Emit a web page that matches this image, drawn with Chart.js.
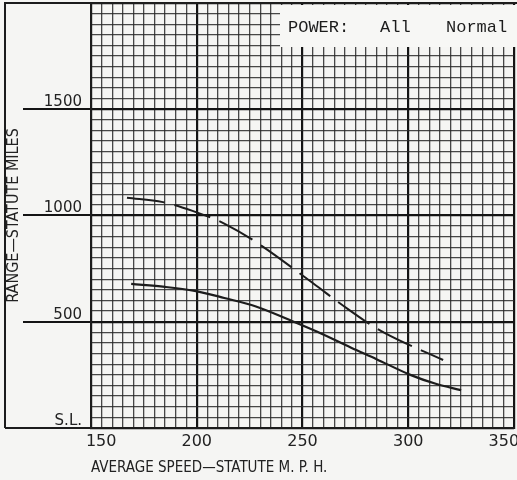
<!DOCTYPE html>
<html>
<head>
<meta charset="utf-8">
<script src="https://cdn.jsdelivr.net/npm/chart.js@4/dist/chart.umd.min.js"></script>
<style>
html,body{margin:0;padding:0;background:#f5f5f3;}
#wrap{width:517px;height:480px;position:relative;}
canvas{display:block;}
</style>
</head>
<body>
<div id="wrap"><canvas id="c" width="517" height="480"></canvas></div>
<script>
// ---- data ----
const speedDashed = [167, 184, 198, 213, 230, 255, 271, 289, 316.5];
const rangeDashed = [1084, 1063, 1022, 962, 862, 681, 563, 446, 320];

const speedSolid = [169, 185, 199, 213, 228, 244, 257, 273, 285, 301, 313, 325];
const rangeSolid = [678, 664, 645, 612, 572, 508, 453, 378, 324, 250, 208, 178];

const xTickLabels = {150: '150', 200: '200', 250: '250', 300: '300', 350: '350'};
const yTickLabels = {0: 'S.L.', 500: '500', 1000: '1000', 1500: '1500'};

const xTitle = 'AVERAGE SPEED\u2014STATUTE M. P. H.';
const yTitle = 'RANGE\u2014STATUTE MILES';
const legendParts = ['POWER:', 'All', 'Normal'];

// ---- styling ----
const INK = '#1c1c1c';
const MINOR = 'rgba(40,40,40,0.85)';
const MAJOR = '#141414';
const BG = '#f5f5f3';
const CONDENSED = "'DejaVu Sans Condensed', 'Liberation Sans Narrow', 'DejaVu Sans', sans-serif";

const toPoints = (xs, ys) => xs.map((x, i) => ({x: x, y: ys[i]}));

const paperPlugin = {
  id: 'paper',
  beforeDraw(chart) {
    const ctx = chart.ctx;
    ctx.save();
    ctx.fillStyle = BG;
    ctx.fillRect(0, 0, chart.width, chart.height);
    ctx.restore();
  },
  afterDraw(chart) {
    const ctx = chart.ctx;
    const a = chart.chartArea;
    ctx.save();
    // outer frame
    ctx.strokeStyle = INK;
    ctx.lineWidth = 2;
    ctx.beginPath();
    ctx.moveTo(5, a.bottom);
    ctx.lineTo(5, a.top);
    ctx.lineTo(chart.width, a.top);
    ctx.moveTo(5, a.bottom);
    ctx.lineTo(a.left, a.bottom);
    ctx.stroke();
    // legend box
    ctx.fillStyle = '#f7f7f5';
    ctx.fillRect(280, a.top + 2, chart.width - 280, 42);
    ctx.fillStyle = INK;
    ctx.font = "17px 'Liberation Mono', 'DejaVu Sans Mono', monospace";
    ctx.textBaseline = 'middle';
    ctx.textAlign = 'left';
    ctx.fillText(legendParts[0], 288, 27);
    ctx.fillText(legendParts[1], 380, 27);
    ctx.fillText(legendParts[2], 446, 27);
    ctx.restore();
  }
};

new Chart(document.getElementById('c'), {
  type: 'line',
  data: {
    datasets: [
      {
        label: 'Dashed',
        data: toPoints(speedDashed, rangeDashed),
        borderColor: INK,
        borderWidth: 2,
        borderDash: [38, 10],
        pointRadius: 0,
        tension: 0.35,
        fill: false
      },
      {
        label: 'Solid',
        data: toPoints(speedSolid, rangeSolid),
        borderColor: INK,
        borderWidth: 2.2,
        pointRadius: 0,
        tension: 0.35,
        fill: false
      }
    ]
  },
  options: {
    responsive: false,
    animation: false,
    devicePixelRatio: 1,
    layout: {padding: {left: 0, right: 3, top: 3, bottom: 0}},
    plugins: {legend: {display: false}, tooltip: {enabled: false}},
    scales: {
      x: {
        type: 'linear',
        min: 150,
        max: 350,
        afterFit(scale) {
          scale.height = 52;
          scale.paddingLeft = 0;
          scale.paddingRight = 0;
        },
        ticks: {
          stepSize: 5,
          autoSkip: false,
          maxRotation: 0,
          padding: 4,
          color: '#222',
          font: {family: "'DejaVu Sans', sans-serif", size: 16},
          callback(v) {
            const t = xTickLabels[v];
            if (!t) return '';
            if (v === 150) return '    ' + t;
            if (v === 350) return t + '    ';
            return t;
          }
        },
        grid: {
          drawTicks: false,
          color: (c) => (c.tick && c.tick.value % 50 === 0) ? MAJOR : MINOR,
          lineWidth: (c) => (c.tick && c.tick.value % 50 === 0) ? 2.2 : 1.3
        },
        border: {display: true, color: INK, width: 2},
        title: {
          display: true,
          text: xTitle,
          align: 'start',
          color: '#222',
          font: {family: CONDENSED, size: 15},
          padding: {top: 0, bottom: 3}
        }
      },
      y: {
        type: 'linear',
        min: 0,
        max: 2000,
        afterFit(scale) {
          scale.width = 91;
          scale.paddingTop = 0;
          scale.paddingBottom = 0;
        },
        ticks: {
          stepSize: 50,
          autoSkip: false,
          padding: -59,
          labelOffset: -7,
          color: '#222',
          font: {family: "'DejaVu Sans', sans-serif", size: 15},
          callback(v) {
            return yTickLabels[v] || '';
          }
        },
        grid: {
          drawTicks: true,
          tickLength: 68,
          tickColor: (c) => (c.tick && yTickLabels[c.tick.value]) ? MAJOR : 'rgba(0,0,0,0)',
          tickWidth: 2,
          color: (c) => (c.tick && c.tick.value % 500 === 0) ? MAJOR : MINOR,
          lineWidth: (c) => (c.tick && c.tick.value % 500 === 0) ? 2.2 : 1.3
        },
        border: {display: true, color: INK, width: 2},
        title: {
          display: true,
          text: yTitle,
          color: '#222',
          font: {family: CONDENSED, size: 16},
          padding: {top: 4, bottom: 0}
        }
      }
    }
  },
  plugins: [paperPlugin]
});
</script>
</body>
</html>
